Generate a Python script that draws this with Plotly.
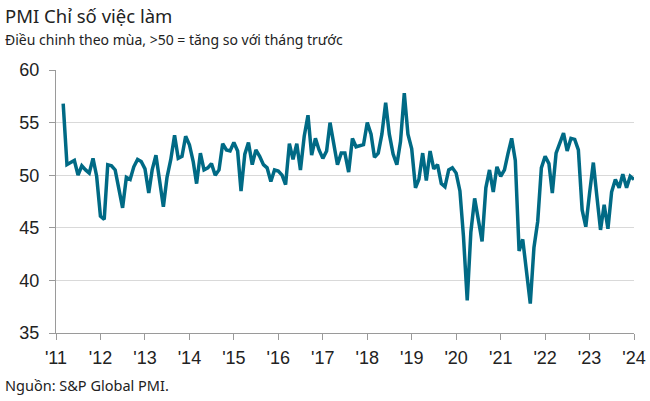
import plotly.graph_objects as go
import pandas as pd

# Monthly employment index, Mar 2011 - Jan 2024
start_month = "2011-03-01"
employment = [
    # 2011 (Mar-Dec)
    56.8, 51.0, 51.2, 51.4, 50.0, 50.9, 50.5, 50.2, 51.6, 49.9,
    # 2012
    46.1, 45.8, 51.0, 50.9, 50.5, 48.8, 46.9, 49.8, 49.6, 50.8, 51.5, 51.3,
    # 2013
    50.6, 48.3, 50.5, 51.9, 49.5, 47.0, 49.8, 51.5, 53.8, 51.6, 51.8, 53.7,
    # 2014
    52.9, 51.3, 49.2, 52.1, 50.5, 50.7, 51.1, 50.0, 50.5, 53.0, 52.4, 52.3,
    # 2015
    53.1, 52.3, 48.5, 52.0, 53.1, 51.0, 52.4, 51.8, 51.0, 50.7, 49.4, 50.5,
    # 2016
    50.4, 50.0, 49.1, 53.0, 51.5, 53.0, 50.5, 53.7, 55.7, 51.9, 53.5, 52.4,
    # 2017
    51.6, 52.3, 55.0, 53.1, 51.0, 52.1, 52.1, 50.3, 53.5, 52.7, 52.8, 52.9,
    # 2018
    55.0, 53.9, 51.7, 52.1, 53.9, 56.9, 53.9, 52.0, 51.0, 53.2, 57.8, 53.9,
    # 2019
    52.5, 48.8, 49.6, 52.1, 49.5, 52.3, 50.6, 51.0, 49.2, 48.9, 50.5, 50.7,
    # 2020
    50.2, 48.5, 44.2, 38.1, 44.6, 47.8, 45.8, 43.7, 48.8, 50.5, 48.4, 50.8,
    # 2021
    49.9, 50.5, 52.0, 53.5, 51.4, 42.8, 43.9, 40.6, 37.8, 43.1, 45.6, 50.7,
    # 2022
    51.8, 51.1, 48.3, 52.1, 53.0, 54.0, 52.3, 53.5, 53.4, 52.4, 46.7, 45.1,
    # 2023
    48.3, 51.2, 48.1, 44.8, 47.2, 44.9, 48.4, 49.6, 48.8, 50.1, 48.8, 49.9,
    # 2024
    49.6,
]
months = pd.date_range(start_month, periods=len(employment), freq="MS")

tick_years = list(range(2011, 2025))
tick_vals = [f"{y}-01-01" for y in tick_years]
tick_text = [f"'{str(y)[2:]}" for y in tick_years]
y_ticks = [35, 40, 45, 50, 55, 60]

title_text = "PMI Chỉ số việc làm"
subtitle_text = "Điều chinh theo mùa, >50 = tăng so với tháng trước"
source_text = "Nguồn: S&P Global PMI."

W, H = 650, 401
ml, mr, mt, mb = 56, 16, 70, 68
pw, ph = W - ml - mr, H - mt - mb

def px(x):
    return (x - ml) / pw

def py(y):
    return (H - mb - y) / ph

fig = go.Figure()
fig.add_trace(go.Scatter(
    x=months, y=employment, mode="lines",
    line=dict(color="#006A85", width=3.5),
    hoverinfo="x+y",
))

tick_font = dict(family="Liberation Sans, Arial, sans-serif", size=18, color="#222222")
fig.update_layout(
    width=W, height=H, autosize=False,
    margin=dict(l=ml, r=mr, t=mt, b=mb, autoexpand=False),
    paper_bgcolor="white", plot_bgcolor="white",
    showlegend=False,
    xaxis=dict(
        type="date", range=["2011-01-01", "2024-01-01"],
        tickvals=tick_vals, ticktext=tick_text,
        showgrid=False, showline=True, linecolor="#9a9a9a", linewidth=1.3,
        ticks="outside", ticklen=6, tickcolor="#9a9a9a", tickwidth=1.3,
        tickfont=tick_font, zeroline=False, ticklabelstandoff=2,
        automargin=False,
    ),
    yaxis=dict(
        range=[35, 60], tickvals=y_ticks,
        showgrid=True, gridcolor="#d9d9d9", gridwidth=1.3,
        showline=True, linecolor="#9a9a9a", linewidth=1.3,
        ticks="outside", ticklen=6, tickcolor="#9a9a9a", tickwidth=1.3,
        tickfont=tick_font, zeroline=False, ticklabelstandoff=6,
        automargin=False,
    ),
    annotations=[
        dict(text=title_text, xref="paper", yref="paper", x=px(3), y=py(1),
             xanchor="left", yanchor="top", showarrow=False,
             font=dict(family="Noto Sans, sans-serif", size=18.5, color="#222222")),
        dict(text=subtitle_text, xref="paper", yref="paper", x=px(3), y=py(28),
             xanchor="left", yanchor="top", showarrow=False,
             font=dict(family="Noto Sans, sans-serif", size=14, color="#222222")),
        dict(text=source_text, xref="paper", yref="paper", x=px(3), y=py(373),
             xanchor="left", yanchor="top", showarrow=False,
             font=dict(family="Noto Sans, sans-serif", size=14.5, color="#222222")),
    ],
)

fig.write_html(
    "out.html",
    config={"displayModeBar": False},
    post_script="document.body.style.margin='0';document.body.style.overflow='hidden';",
)
